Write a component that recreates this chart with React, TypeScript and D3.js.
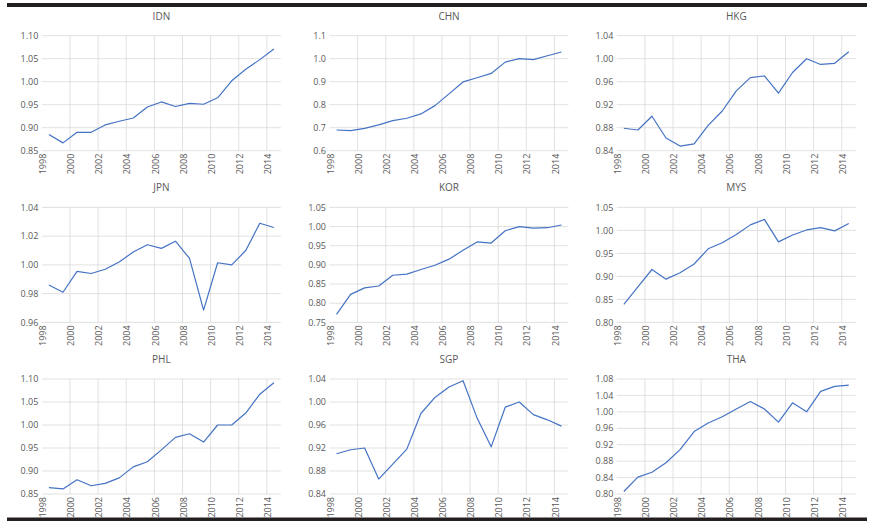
import React from 'react';
import * as d3 from 'd3';

const years = [1998, 1999, 2000, 2001, 2002, 2003, 2004, 2005, 2006, 2007, 2008, 2009, 2010, 2011, 2012, 2013, 2014];
const yearLabels = [1998, 2000, 2002, 2004, 2006, 2008, 2010, 2012, 2014];

const idn = [0.885, 0.867, 0.890, 0.890, 0.906, 0.914, 0.921, 0.945, 0.956, 0.946, 0.953, 0.951, 0.965, 1.002, 1.027, 1.048, 1.071];
const chn = [0.690, 0.687, 0.697, 0.712, 0.731, 0.741, 0.760, 0.796, 0.847, 0.899, 0.917, 0.936, 0.985, 1.000, 0.996, 1.013, 1.029];
const hkg = [0.879, 0.876, 0.900, 0.862, 0.848, 0.852, 0.884, 0.909, 0.944, 0.967, 0.970, 0.940, 0.976, 1.000, 0.990, 0.992, 1.012];
const jpn = [0.986, 0.981, 0.9955, 0.994, 0.997, 1.002, 1.009, 1.014, 1.0115, 1.0165, 1.0045, 0.9685, 1.0015, 1.000, 1.010, 1.029, 1.026];
const kor = [0.771, 0.823, 0.840, 0.845, 0.873, 0.876, 0.888, 0.899, 0.915, 0.938, 0.960, 0.957, 0.989, 1.000, 0.996, 0.997, 1.004];
const mys = [0.839, 0.877, 0.915, 0.894, 0.908, 0.927, 0.960, 0.973, 0.991, 1.012, 1.024, 0.975, 0.990, 1.001, 1.006, 0.999, 1.015];
const phl = [0.864, 0.861, 0.881, 0.868, 0.873, 0.885, 0.909, 0.920, 0.946, 0.973, 0.981, 0.963, 1.000, 1.000, 1.026, 1.067, 1.092];
const sgp = [0.910, 0.917, 0.920, 0.866, 0.892, 0.918, 0.980, 1.008, 1.026, 1.037, 0.972, 0.922, 0.991, 1.000, 0.978, 0.969, 0.958];
const tha = [0.806, 0.841, 0.853, 0.876, 0.908, 0.952, 0.973, 0.988, 1.007, 1.025, 1.007, 0.975, 1.022, 1.000, 1.050, 1.062, 1.065];

const ticksA = [0.85, 0.90, 0.95, 1.00, 1.05, 1.10];
const ticksCHN = [0.6, 0.7, 0.8, 0.9, 1.0, 1.1];
const ticks04 = [0.84, 0.88, 0.92, 0.96, 1.00, 1.04];
const ticksJPN = [0.96, 0.98, 1.00, 1.02, 1.04];
const ticksKOR = [0.75, 0.80, 0.85, 0.90, 0.95, 1.00, 1.05];
const ticksMYS = [0.80, 0.85, 0.90, 0.95, 1.00, 1.05];
const ticksTHA = [0.80, 0.84, 0.88, 0.92, 0.96, 1.00, 1.04, 1.08];

const panels = [
  { name: 'IDN', values: idn, ticks: ticksA, fmt: '.2f' },
  { name: 'CHN', values: chn, ticks: ticksCHN, fmt: '.1f' },
  { name: 'HKG', values: hkg, ticks: ticks04, fmt: '.2f' },
  { name: 'JPN', values: jpn, ticks: ticksJPN, fmt: '.2f' },
  { name: 'KOR', values: kor, ticks: ticksKOR, fmt: '.2f' },
  { name: 'MYS', values: mys, ticks: ticksMYS, fmt: '.2f' },
  { name: 'PHL', values: phl, ticks: ticksA, fmt: '.2f' },
  { name: 'SGP', values: sgp, ticks: ticks04, fmt: '.2f' },
  { name: 'THA', values: tha, ticks: ticksTHA, fmt: '.2f' },
];

const W = 871;
const H = 521;
const colLeft = [41.9, 329.5, 616.8];
const rowTop = [35.7, 207.4, 379];
const plotW = 239;
const plotH = 115;
const textColor = '#595959';
const gridColor = '#d9d9d9';
const font = '"Open Sans", "Liberation Sans", sans-serif';

const Panel = ({ p, left, top }) => {
  const x = d3.scaleBand<number>().domain(years).range([0, plotW]).padding(0);
  const y = d3.scaleLinear()
    .domain([p.ticks[0], p.ticks[p.ticks.length - 1]])
    .range([plotH, 0]);
  const fmt = d3.format(p.fmt);
  const line = d3.line<number>()
    .x((d, i) => x(years[i])! + x.bandwidth() / 2)
    .y((d) => y(d));

  return (
    <g transform={`translate(${left},${top})`}>
      <text x={plotW / 2} y={-16} textAnchor="middle" fontSize={10} fill={textColor}>{p.name}</text>
      {p.ticks.map((t) => (
        <g key={t}>
          <line x1={0} x2={plotW} y1={y(t)} y2={y(t)} stroke={gridColor} strokeWidth={0.8} />
          <text x={-3.5} y={y(t)} dy="0.35em" textAnchor="end" fontSize={9} fill={textColor}>{fmt(t)}</text>
        </g>
      ))}
      {yearLabels.map((yr) => (
        <g key={yr}>
          {yr !== years[0] && (
            <line x1={x(yr)} x2={x(yr)} y1={0} y2={plotH} stroke={gridColor} strokeWidth={0.8} />
          )}
          <text
            transform={`translate(${x(yr)! + 1},${plotH + 3}) rotate(-90)`}
            dy="0.35em"
            textAnchor="end"
            fontSize={9}
            fill={textColor}
          >{yr}</text>
        </g>
      ))}
      <path d={line(p.values) || ''} fill="none" stroke="#4472c4" strokeWidth={1.2} strokeLinejoin="round" />
    </g>
  );
};

export default function App() {
  return (
    <svg width={W} height={H} style={{ position: 'absolute', left: 0, top: 0, fontFamily: font }}>
      <rect width={W} height={H} fill="#ffffff" />
      <rect x={7} y={3} width={860} height={4} fill="#231f20" />
      <rect x={7} y={517.5} width={860} height={4} fill="#231f20" />
      {panels.map((p, i) => (
        <Panel key={p.name} p={p} left={colLeft[i % 3]} top={rowTop[Math.floor(i / 3)]} />
      ))}
    </svg>
  );
}
